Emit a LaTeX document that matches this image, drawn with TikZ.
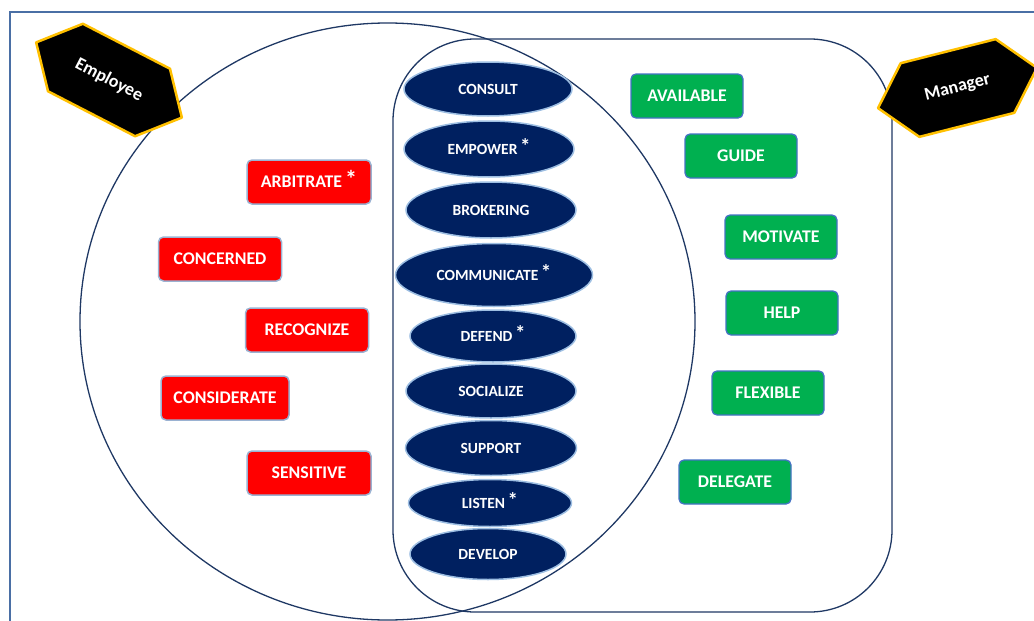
\documentclass[tikz,border=0pt]{standalone}
\usepackage{fontspec}
\usepackage{graphicx}
\setmainfont{Carlito}
\usetikzlibrary{shapes.geometric}
\definecolor{navy}{HTML}{002060}
\definecolor{ovalrim}{HTML}{9DBEE2}
\definecolor{linenavy}{HTML}{1F3864}
\definecolor{framecol}{HTML}{4A6FA5}
\definecolor{redfill}{HTML}{FF0000}
\definecolor{redrim}{HTML}{9AB2D2}
\definecolor{greenfill}{HTML}{00B050}
\definecolor{greenrim}{HTML}{4472C4}
\definecolor{gold}{HTML}{FFC000}
\newcommand\astmark{\,\smash{\raisebox{0.04em}{\scalebox{1.35}{*}}}}

\begin{document}
\begin{tikzpicture}[x=1pt, y=-1pt,
    oval/.style={ellipse, fill=navy, draw=ovalrim, line width=1.5pt, inner sep=0pt,
      text=white, font=\bfseries\fontsize{15.5}{17}\selectfont},
    redbox/.style={rectangle, rounded corners=5pt, fill=redfill, draw=redrim, line width=1.5pt,
      minimum height=44pt, inner sep=0pt, text=white, font=\bfseries\fontsize{17.8}{19}\selectfont},
    greenbox/.style={rectangle, rounded corners=5pt, fill=greenfill, draw=greenrim, line width=1.3pt,
      minimum width=112pt, minimum height=44pt, inner sep=0pt, text=white, font=\bfseries\fontsize{17.8}{19}\selectfont},
    hexlabel/.style={text=white, font=\bfseries\fontsize{18}{19}\selectfont}]
  \useasboundingbox (0,0) rectangle (1034,621);

  % frame
  \draw[framecol, line width=1.3pt] (10,621) -- (10,12) -- (1034,12);

  % the two sets
  \draw[linenavy, line width=1.3pt] (387.5,321.5) ellipse [x radius=307.5, y radius=298.5];
  \draw[linenavy, line width=1.3pt, rounded corners=82pt] (393,39) rectangle (892,612);

  % shared ovals
  \node[oval, minimum width=168pt, minimum height=54pt] (consult) at (488,89) {CONSULT};
  \node[oval, minimum width=170pt, minimum height=56pt] (empower) at (489,149) {EMPOWER\astmark};
  \node[oval, minimum width=170pt, minimum height=56pt] (brokering) at (491,210) {BROKERING};
  \node[oval, minimum width=197pt, minimum height=63pt] (communicate) at (494,275) {COMMUNICATE\astmark};
  \node[oval, minimum width=166pt, minimum height=52pt] (defend) at (493,336) {DEFEND\astmark};
  \node[oval, minimum width=170pt, minimum height=54pt] (socialize) at (491,391) {SOCIALIZE};
  \node[oval, minimum width=171pt, minimum height=55pt] (support) at (491,448) {SUPPORT};
  \node[oval, minimum width=163pt, minimum height=47pt] (listen) at (490,503) {LISTEN\astmark};
  \node[oval, minimum width=156pt, minimum height=51pt] (develop) at (488,554) {DEVELOP};

  % employee side
  \node[redbox, minimum width=124pt] (arbitrate) at (309,182) {ARBITRATE\astmark};
  \node[redbox, minimum width=123pt] (concerned) at (220,259) {CONCERNED};
  \node[redbox, minimum width=123pt] (recognize) at (307,330) {RECOGNIZE};
  \node[redbox, minimum width=128pt] (considerate) at (225,398) {CONSIDERATE};
  \node[redbox, minimum width=124pt] (sensitive) at (309,473) {SENSITIVE};

  % manager side
  \node[greenbox] (available) at (687,96) {AVAILABLE};
  \node[greenbox] (guide) at (741,156) {GUIDE};
  \node[greenbox] (motivate) at (781,237) {MOTIVATE};
  \node[greenbox] (help) at (782,313) {HELP};
  \node[greenbox] (flexible) at (768,393) {FLEXIBLE};
  \node[greenbox] (delegate) at (735,482) {DELEGATE};

  % hexagon tags
  \begin{scope}[shift={(109,80)}, rotate=-27.3]
    \filldraw[fill=black, draw=gold, line width=2.5pt, line join=round]
      (-82,0) -- (-49,-38) -- (49,-38) -- (82,0) -- (49,38) -- (-49,38) -- cycle;
  \end{scope}
  \node[hexlabel, rotate=-27.3] (employee) at (109,80) {Employee};

  \begin{scope}[shift={(957.5,88)}, rotate=14.2]
    \filldraw[fill=black, draw=gold, line width=2.5pt, line join=round]
      (-82,0) -- (-49,-38) -- (49,-38) -- (82,0) -- (49,38) -- (-49,38) -- cycle;
  \end{scope}
  \node[hexlabel, rotate=14.2] (manager) at (957.5,88) {Manager};
\end{tikzpicture}
\end{document}
